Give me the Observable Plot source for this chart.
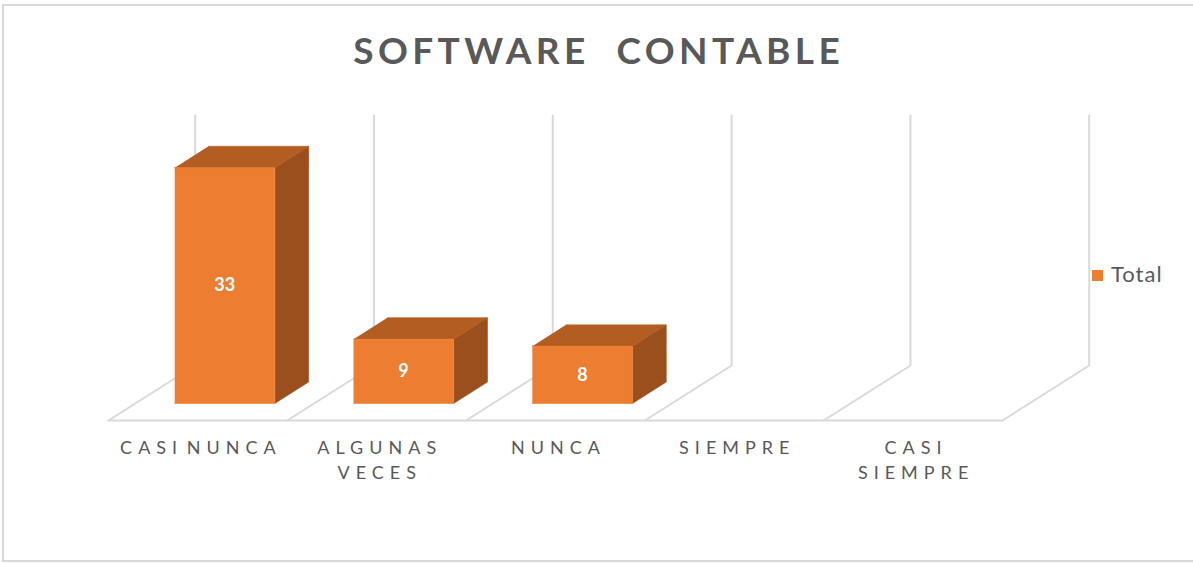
<!DOCTYPE html>
<html>
<head>
<meta charset="utf-8">
<script src="https://cdn.jsdelivr.net/npm/d3@7"></script>
<script src="https://cdn.jsdelivr.net/npm/@observablehq/plot@0.6"></script>
<style>
  body { margin: 0; background: #fff; }
  #wrap { position: relative; width: 1193px; height: 563px; overflow: hidden; background: #fff; }
  #frame { position: absolute; left: 2px; top: 4px; width: 1230px; height: 558px; box-sizing: border-box; border: 2px solid #D9D9D9; border-right: none; }
  #title { position: absolute; left: 0; width: 1193px; top: 26px; text-align: center; font-family: Lato, "Open Sans", sans-serif; font-weight: 700; font-size: 37px; letter-spacing: 4.4px; text-indent: 4.4px; color: #595959; white-space: pre; line-height: 48px; }
  #legend { position: absolute; left: 1092px; top: 262px; font-family: Lato, "Open Sans", sans-serif; font-size: 22px; letter-spacing: 1px; color: #595959; line-height: 24px; white-space: nowrap; }
  #legend .sw { display: inline-block; width: 11px; height: 11px; background: #ED7D31; margin-right: 8px; vertical-align: 1px; }
  #chart { position: absolute; left: 0; top: 0; }
</style>
</head>
<body>
<div id="wrap">
  <div id="frame"></div>
  <div id="chart"></div>
  <div id="title"></div>
  <div id="legend"></div>
</div>
<script>
// ---- data ----
const categories = ["CASI NUNCA", "ALGUNAS VECES", "NUNCA", "SIEMPRE", "CASI SIEMPRE"];
const tickLabels = ["CASI NUNCA", "ALGUNAS\nVECES", "NUNCA", "SIEMPRE", "CASI\nSIEMPRE"];
const totals = [33, 9, 8, 0, 0];
const seriesName = "Total";
const chartTitle = "SOFTWARE  CONTABLE";
const wallMax = 35;

// ---- 3D projection settings (oblique) ----
const DX = 0.485;   // horizontal shift of full depth, in category units
const DY = 7.7;     // vertical shift of full depth, in value units
const d0 = 0.31, d1 = 0.70;   // bar front/back depth
const a = 0.22, b = 0.78;     // bar left/right within category
const proj = (c, v, d) => ({x: c + d * DX, y: v + d * DY});

const colFront = "#ED7D31", colTop = "#B45D22", colSide = "#9A4F1D";
const gridColor = "#D9D9D9";

// grid: floor diagonals + back wall verticals
const grid = [];
for (let i = 0; i <= categories.length; i++) {
  [[i, 0, 0], [i, 0, 1], [i, wallMax, 1]].forEach(p => grid.push({id: i, ...proj(...p)}));
}
const front = [[0, 0, 0], [categories.length, 0, 0]].map(p => ({id: "f", ...proj(...p)}));

// bar faces
const fronts = [], tops = [], sides = [];
categories.forEach((cat, i) => {
  const v = totals[i];
  if (!(v > 0)) return;
  [[i + a, 0, d0], [i + b, 0, d0], [i + b, v, d0], [i + a, v, d0]].forEach(p => fronts.push({id: cat, ...proj(...p)}));
  [[i + a, v, d0], [i + b, v, d0], [i + b, v, d1], [i + a, v, d1]].forEach(p => tops.push({id: cat, ...proj(...p)}));
  [[i + b, 0, d0], [i + b, 0, d1], [i + b, v, d1], [i + b, v, d0]].forEach(p => sides.push({id: cat, ...proj(...p)}));
});

const valueLabels = categories.map((cat, i) => ({cat, v: totals[i], ...proj(i + 0.5, totals[i] / 2, d0)})).filter(d => d.v > 0);
const catLabels = categories.map((cat, i) => ({label: tickLabels[i], ...proj(i + 0.5, 0, 0)}));

const LS = 6; // letter spacing for category labels

const plot = Plot.plot({
  width: 1193,
  height: 563,
  margin: 0,
  x: {type: "linear", domain: [0, categories.length], range: [108, 1002], axis: null},
  y: {type: "linear", domain: [0, wallMax], range: [420, 170], axis: null},
  marks: [
    Plot.line(grid, {x: "x", y: "y", z: "id", stroke: gridColor, strokeWidth: 2}),
    Plot.line(front, {x: "x", y: "y", z: "id", stroke: gridColor, strokeWidth: 2}),
    Plot.line(sides, {x: "x", y: "y", z: "id", fill: colSide, stroke: colSide, strokeWidth: 0.6}),
    Plot.line(tops, {x: "x", y: "y", z: "id", fill: colTop, stroke: colTop, strokeWidth: 0.6}),
    Plot.line(fronts, {x: "x", y: "y", z: "id", fill: colFront, stroke: colFront, strokeWidth: 0.6}),
    Plot.text(valueLabels, {x: "x", y: "y", text: d => String(d.v), fill: "white", fontWeight: "bold", fontSize: 18, fontFamily: "Lato, 'Open Sans', sans-serif"}),
    Plot.text(catLabels, {x: "x", y: "y", text: "label", lineAnchor: "top", dy: 16, dx: LS / 2, lineHeight: 1.39, fontSize: 18, fill: "#595959", fontFamily: "Lato, 'Open Sans', sans-serif"})
  ]
});
const textGroups = d3.select(plot).selectAll('g[aria-label="text"]').nodes();
const catGroup = textGroups[textGroups.length - 1];
d3.select(catGroup).style("letter-spacing", LS + "px").style("word-spacing", "-7px");
d3.select(catGroup).selectAll("text, tspan").style("letter-spacing", LS + "px").style("word-spacing", "-7px");
document.getElementById("chart").appendChild(plot);
document.getElementById("title").textContent = chartTitle;
document.getElementById("legend").innerHTML = '<span class="sw"></span>' + seriesName;
</script>
</body>
</html>
